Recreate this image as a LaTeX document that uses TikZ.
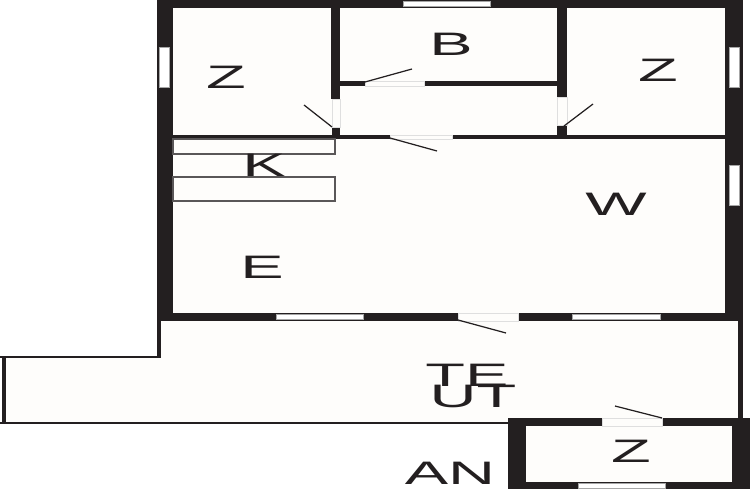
\documentclass[tikz,border=0pt]{standalone}
\usepackage{fontspec}
\setmainfont{Liberation Sans}
\definecolor{wallc}{HTML}{231F20}
\definecolor{floorc}{HTML}{FEFDFB}
\newcommand{\roomtext}[1]{\scalebox{2}[1]{\fontsize{18.5}{20}\selectfont #1}}
\tikzset{
  wall/.style={fill=wallc,draw=none},
  opening/.style={fill=floorc,draw=gray!25,line width=.4pt},
  window/.style={fill=white,draw=gray!70,line width=.3pt},
  doorleaf/.style={draw=wallc,line width=.7pt},
  shelf/.style={draw=wallc!75,line width=.9pt,fill=floorc},
  roomlabel/.style={inner sep=0pt,text=wallc}
}
\begin{document}
\begin{tikzpicture}[x=.02cm,y=-.02cm]
    \useasboundingbox (0,0) rectangle (750,500);
    \fill[white] (0,0) rectangle (750,500);
    % floor
    \fill[floorc] (157,0) rectangle (743,321);
    \fill[floorc] (160,321) -- (740,321) -- (740,423) -- (3,423) -- (3,357) -- (160,357) -- cycle;
    % outer walls
    \fill[wall] (157,0) rectangle (743,8);
    \fill[wall] (157,0) rectangle (173,321);
    \fill[wall] (725,0) rectangle (743,321);
    \fill[wall] (157,313) rectangle (743,321);
    % inner walls
    \fill[wall] (331,8) rectangle (340,99);
    \fill[wall] (332,127) rectangle (340,139);
    \fill[wall] (557,8) rectangle (567,97);
    \fill[wall] (557,125) rectangle (567,139);
    \fill[wall] (173,135) rectangle (390,139);
    \fill[wall] (452,135) rectangle (725,139);
    \fill[wall] (340,81) rectangle (365,86);
    \fill[wall] (424,81) rectangle (557,86);
    % inner openings
    \draw[opening] (332,99) rectangle (340,127);
    \draw[opening] (557,97) rectangle (567,125);
    \draw[opening] (365,81) rectangle (424,86);
    \draw[opening] (390,135) rectangle (452,139);
    % kitchen
    \draw[shelf] (173,139) rectangle (335,154);
    \draw[shelf] (173,177) rectangle (335,201);
    % terrace
    \fill[wall] (157,321) rectangle (160.5,358);
    \fill[wall] (738,321) rectangle (743,418);
    \fill[wall] (0,356) rectangle (160,358);
    \fill[wall] (2,357) rectangle (6,423);
    \fill[wall] (0,422) rectangle (510,424);
    % annex
    \fill[wall] (508,418) rectangle (750,489);
    \fill[floorc] (526,426) rectangle (732,482);
    % windows
    \draw[window] (159,47) rectangle (169,87);
    \draw[window] (729,47) rectangle (739,87);
    \draw[window] (729,165) rectangle (739,205);
    \draw[window] (403,1) rectangle (490,6);
    \draw[window] (276,314.5) rectangle (363,319);
    \draw[window] (572,314.5) rectangle (660,319);
    \draw[window] (578,483.5) rectangle (665,488);
    % doors
    \draw[opening] (458,313) rectangle (518,321);
    \draw[opening] (602,418) rectangle (662,426);
    \draw[doorleaf] (458,320) -- (506,333);
    \draw[doorleaf] (662,418) -- (615,406);
    \draw[doorleaf] (390,138) -- (437,151);
    \draw[doorleaf] (365,82) -- (412,69);
    \draw[doorleaf] (332,127) -- (304,105);
    \draw[doorleaf] (564,126) -- (593,104);
    % labels
    \node[roomlabel] (bedleft) at (226,77.5) {\roomtext{Z}};
    \node[roomlabel] (bath) at (451,44) {\roomtext{B}};
    \node[roomlabel] (bedright) at (658,70) {\roomtext{Z}};
    \node[roomlabel] (kitchen) at (264,165.5) {\roomtext{K}};
    \node[roomlabel] (living) at (616,204) {\roomtext{W}};
    \node[roomlabel] (eat) at (262,267) {\roomtext{E}};
    \node[roomlabel] (terrace) at (467,375) {\roomtext{TE}};
    \node[roomlabel] (outside) at (473,396) {\roomtext{UT}};
    \node[roomlabel] (annexlabel) at (450,473) {\roomtext{AN}};
    \node[roomlabel] (annexroom) at (631,451) {\roomtext{Z}};
\end{tikzpicture}
\end{document}
